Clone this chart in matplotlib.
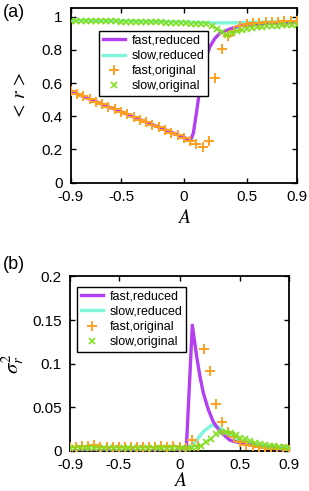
import numpy as np
import matplotlib
matplotlib.use("Agg")
import matplotlib.pyplot as plt

plt.rcParams.update({
    "font.family": ["Liberation Sans", "DejaVu Sans"],
    "mathtext.fontset": "stix",
    "axes.unicode_minus": False,
    "axes.linewidth": 1.3,
})

PURPLE, CYAN, ORANGE, GREEN = "#b23ff0", "#7ff5dc", "#ffa020", "#80e020"

# ---- grids of the "original" (simulation) points
A_fast = [-0.90, -0.85, -0.80, -0.75, -0.70, -0.65, -0.60, -0.55, -0.50, -0.45,
          -0.40, -0.35, -0.30, -0.25, -0.20, -0.15, -0.10, -0.05, 0.00, 0.05,
          0.10, 0.15, 0.20, 0.25, 0.30, 0.35, 0.40, 0.45, 0.50, 0.55,
          0.60, 0.65, 0.70, 0.75, 0.80, 0.85, 0.90]
A_slow = [-0.90, -0.86, -0.82, -0.78, -0.74, -0.70, -0.66, -0.62, -0.58, -0.54,
          -0.50, -0.46, -0.42, -0.38, -0.34, -0.30, -0.26, -0.22, -0.18, -0.14,
          -0.10, -0.06, -0.02, 0.02, 0.06, 0.10, 0.14, 0.18, 0.22, 0.26,
          0.30, 0.34, 0.38, 0.42, 0.46, 0.50, 0.54, 0.58, 0.62, 0.66,
          0.70, 0.74, 0.78, 0.82, 0.86, 0.90]

# ---- panel (a): <r>
r_fast_orig = [0.550, 0.535, 0.519, 0.504, 0.488, 0.473, 0.457, 0.442, 0.426, 0.411,
               0.395, 0.380, 0.364, 0.349, 0.333, 0.318, 0.302, 0.287, 0.271, 0.250,
               0.230, 0.216, 0.250, 0.632, 0.806, 0.885, 0.916, 0.945, 0.956, 0.960,
               0.963, 0.966, 0.968, 0.970, 0.971, 0.972, 0.973]
r_slow_orig = [0.975, 0.975, 0.974, 0.974, 0.973, 0.973, 0.972, 0.972, 0.971, 0.971,
               0.970, 0.970, 0.969, 0.969, 0.968, 0.967, 0.967, 0.966, 0.965, 0.964,
               0.963, 0.962, 0.961, 0.960, 0.958, 0.957, 0.955, 0.953, 0.945, 0.925,
               0.905, 0.890, 0.900, 0.912, 0.920, 0.927, 0.932, 0.936, 0.939, 0.941,
               0.943, 0.945, 0.947, 0.948, 0.949, 0.950]
A_fast_red_a = [-0.9, 0.055, 0.076, 0.10, 0.115, 0.142, 0.169, 0.208, 0.248, 0.288,
                0.368, 0.447, 0.55, 0.70, 0.90]
r_fast_red = [0.55, 0.256, 0.30, 0.42, 0.50, 0.64, 0.74, 0.82, 0.87, 0.90,
              0.926, 0.945, 0.955, 0.960, 0.965]
A_slow_red_a = [-0.9, -0.4, 0.0, 0.2, 0.3, 0.45, 0.9]
r_slow_red = [0.978, 0.974, 0.968, 0.963, 0.962, 0.964, 0.972]

# ---- panel (b): sigma_r^2
v_fast_orig = [0.004, 0.004, 0.005, 0.006, 0.007, 0.004, 0.004, 0.004, 0.004, 0.004,
               0.004, 0.004, 0.004, 0.004, 0.004, 0.005, 0.004, 0.005, 0.004, 0.003,
               0.012, 0.006, 0.117, 0.091, 0.054, 0.033, 0.021, 0.016, 0.010, 0.007,
               0.005, 0.004, 0.003, 0.002, 0.002, 0.002, 0.001]
v_slow_orig = [0.003, 0.003, 0.003, 0.003, 0.003, 0.003, 0.003, 0.003, 0.003, 0.003,
               0.003, 0.003, 0.003, 0.003, 0.003, 0.003, 0.003, 0.003, 0.003, 0.003,
               0.003, 0.003, 0.003, 0.003, 0.003, 0.003, 0.004, 0.006, 0.010, 0.014,
               0.019, 0.022, 0.021, 0.020, 0.018, 0.015, 0.013, 0.011, 0.009, 0.008,
               0.007, 0.006, 0.005, 0.0045, 0.004, 0.0035]
A_fast_red_b = [-0.9, 0.055, 0.105, 0.141, 0.168, 0.196, 0.237, 0.278, 0.333, 0.415,
                0.524, 0.69, 0.9]
v_fast_red = [0.0, 0.0, 0.144, 0.108, 0.085, 0.066, 0.047, 0.033, 0.022, 0.012,
              0.008, 0.004, 0.001]
A_slow_red_b = [-0.9, 0.05, 0.10, 0.141, 0.196, 0.264, 0.333, 0.415, 0.524, 0.69, 0.9]
v_slow_red = [0.0, 0.0, 0.006, 0.012, 0.022, 0.0295, 0.026, 0.018, 0.0103, 0.006, 0.003]

x_ticks = [-0.9, -0.5, 0, 0.5, 0.9]
x_ticklabels = ["-0.9", "-0.5", "0", "0.5", "0.9"]


def style(ax, xlabelpad):
    ax.set_xlim(-0.9, 0.9)
    ax.set_xticks(x_ticks)
    ax.set_xticklabels(x_ticklabels)
    ax.tick_params(direction="in", length=3.5, width=1, top=True, right=True,
                   labelsize=11)
    ax.tick_params(axis="y", pad=6)
    ax.tick_params(axis="x", pad=5)
    ax.set_xlabel("$A$", fontsize=14, labelpad=xlabelpad)


def draw(ax, xs_fr, y_fr, xs_sr, y_sr, y_fo, y_so):
    ax.plot(xs_fr, y_fr, color=PURPLE, lw=2.4, label="fast,reduced", zorder=3)
    ax.plot(xs_sr, y_sr, color=CYAN, lw=2.4, label="slow,reduced", zorder=2)
    ax.plot(A_fast, y_fo, ls="none", marker="+", ms=6.5, mew=1.4, color=ORANGE,
            label="fast,original", zorder=4)
    ax.plot(A_slow, y_so, ls="none", marker="x", ms=5, mew=1.2, color=GREEN,
            label="slow,original", zorder=4)


fig = plt.figure(figsize=(3.09, 4.91), dpi=100)
ax1 = fig.add_axes([0.229, 0.628, 0.732, 0.355])
ax2 = fig.add_axes([0.2265, 0.082, 0.709, 0.355])

draw(ax1, A_fast_red_a, r_fast_red, A_slow_red_a, r_slow_red, r_fast_orig, r_slow_orig)
style(ax1, 4)
ax1.set_ylim(0, 1.05)
ax1.set_yticks([0, 0.2, 0.4, 0.6, 0.8, 1])
ax1.set_yticklabels(["0", "0.2", "0.4", "0.6", "0.8", "1"])
ax1.set_ylabel(r"$<\,r\,>$", fontsize=14, labelpad=9)
leg = ax1.legend(loc="upper left", bbox_to_anchor=(0.125, 0.87), borderaxespad=0,
                 fontsize=9, numpoints=1, handlelength=1.8, handletextpad=0.5,
                 labelspacing=0.25, borderpad=0.3, fancybox=False, framealpha=1,
                 edgecolor="black")
leg.get_frame().set_linewidth(1.0)

draw(ax2, A_fast_red_b, v_fast_red, A_slow_red_b, v_slow_red, v_fast_orig, v_slow_orig)
style(ax2, 0.5)
ax2.set_ylim(0, 0.2)
ax2.set_yticks([0, 0.05, 0.1, 0.15, 0.2])
ax2.set_yticklabels(["0", "0.05", "0.1", "0.15", "0.2"])
ax2.set_ylabel(r"$\sigma_r^2$", fontsize=15, labelpad=4)
leg = ax2.legend(loc="upper left", bbox_to_anchor=(0.032, 0.94), borderaxespad=0,
                 fontsize=9, numpoints=1, handlelength=1.8, handletextpad=0.5,
                 labelspacing=0.25, borderpad=0.3, fancybox=False, framealpha=1,
                 edgecolor="black")
leg.get_frame().set_linewidth(1.0)

fig.text(0.01, 0.975, "(a)", fontsize=13, va="center", ha="left")
fig.text(0.01, 0.462, "(b)", fontsize=13, va="center", ha="left")

fig.savefig("out.png", dpi=100)
